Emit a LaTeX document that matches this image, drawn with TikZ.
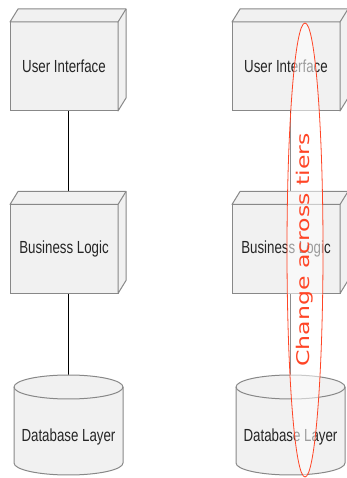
\documentclass[tikz,border=0pt]{standalone}
\usepackage{fontspec}
\setmainfont{Liberation Sans}[FakeStretch=0.76]
\newfontfamily\ringfont{DejaVu Sans}
\usetikzlibrary{calc,shapes.geometric,backgrounds}

\definecolor{tierfill}{HTML}{F1F1F1}
\definecolor{tierline}{HTML}{888888}
\definecolor{ringred}{HTML}{FF4526}

% top and side faces of a tier box, plus its link points
\newcommand\tierfaces[1]{%
  \draw[tierface] (#1.north west) -- ++(8,13) -- ($(#1.north east)+(8,13)$)
    -- ($(#1.south east)+(8,13)$) -- (#1.south east) -- (#1.north east) -- cycle;
  \draw[tierface] (#1.north east) -- ++(8,13);
  \coordinate (#1top) at ($(#1.north)+(4,13)$);
  \coordinate (#1bot) at ($(#1.south)+(4,0)$);
}
% drum drawn round a database node
\newcommand\tierdrum[1]{%
  \draw[tierface] ($(#1.north west)+(0,12)$) -- ($(#1.south west)+(0,12)$)
    arc[start angle=180, end angle=360, x radius=54.5, y radius=12]
    -- ($(#1.north east)+(0,12)$)
    arc[start angle=0, end angle=180, x radius=54.5, y radius=12] -- cycle;
  \draw[tierface, fill=none] ($(#1.north west)+(0,12)$)
    arc[start angle=180, end angle=360, x radius=54.5, y radius=12];
}

\begin{document}
\begin{tikzpicture}[
  x=1pt, y=1pt,
  tierbox/.style={draw=tierline, fill=tierfill, line width=1pt, minimum width=108pt, minimum height=89pt, inner sep=0pt, outer sep=0pt, text=black!85, font=\fontsize{17.5}{20}\selectfont},
  tierface/.style={draw=tierline, fill=tierfill, line width=1pt, line join=round},
  drumtext/.style={minimum width=109pt, minimum height=76pt, inner sep=0pt, outer sep=0pt, text=black!85, font=\fontsize{17.5}{20}\selectfont},
  link/.style={draw=black, line width=0.8pt},
  ring/.style={ellipse, rotate=90, draw=ringred, line width=0.8pt, fill=white, fill opacity=0.55, text opacity=1, text=ringred, minimum width=454pt, minimum height=36pt, inner sep=0pt, font=\ringfont\fontsize{17.5}{20}\selectfont}
]
  \useasboundingbox (0,0) rectangle (347,478);

  % two copies of the three tiers
  \foreach \col/\dx in {a/0, b/222} {
    \node[tierbox] (ui\col) at (64+\dx,411.5) {User Interface};
    \node[tierbox] (bl\col) at (64+\dx,229) {Business Logic};
    \node[drumtext] (db\col) at (68.5+\dx,41) {Database Layer};
    \tierfaces{ui\col}
    \tierfaces{bl\col}
    \begin{scope}[on background layer]
      \draw[link] (ui\col bot) -- (bl\col top);
      \draw[link] (bl\col bot) -- (bl\col bot |- db\col.north);
      \tierdrum{db\col}
    \end{scope}
  }

  \node[ring] (change) at (305,228) {\scalebox{1.35}[1]{Change across tiers}};
\end{tikzpicture}
\end{document}
